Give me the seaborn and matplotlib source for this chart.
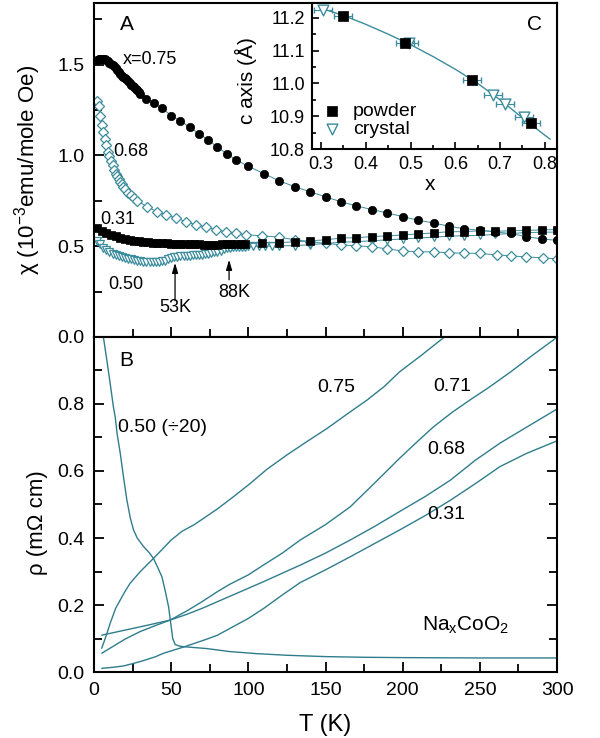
import matplotlib
matplotlib.use("Agg")
import matplotlib.pyplot as plt
from matplotlib.ticker import MultipleLocator, FixedLocator
import numpy as np
import pandas as pd
import seaborn as sns

# ---------------- Panel A: magnetic susceptibility chi(T) ----------------
T_chi_075 = [2, 3, 4, 5, 6, 7, 8, 9, 10, 11, 12, 13, 14, 15, 16, 17, 18, 19, 20,
             21, 22, 23, 24, 25, 26, 27, 28, 29, 30, 34, 39, 44, 50, 56, 62, 68,
             74, 80, 86, 92, 100, 110, 120, 130, 140, 150, 160, 170, 180, 190,
             200, 210, 220, 230, 240, 250, 260, 270, 280, 290, 300]
chi_075 = [1.525, 1.53, 1.53, 1.53, 1.53, 1.53, 1.525, 1.52, 1.51, 1.505, 1.50,
           1.49, 1.48, 1.47, 1.46, 1.45, 1.44, 1.43, 1.425, 1.42, 1.41, 1.40,
           1.39, 1.385, 1.375, 1.365, 1.36, 1.35, 1.34, 1.31, 1.29, 1.26, 1.22,
           1.19, 1.155, 1.12, 1.085, 1.045, 1.01, 0.975, 0.94, 0.90, 0.86, 0.828,
           0.80, 0.772, 0.745, 0.722, 0.702, 0.683, 0.663, 0.643, 0.628, 0.61,
           0.596, 0.588, 0.578, 0.57, 0.553, 0.54, 0.532]

T_chi_068 = [2, 3, 4, 5, 6, 7, 8, 9, 10, 11, 12, 13, 14, 15, 16, 17, 18, 19, 20,
             22, 24, 26, 28, 34.6, 41, 46.7, 53, 59.6, 66, 72.6, 79, 85.6, 92,
             98.5, 109, 120, 130, 140, 150, 160, 170, 180, 190, 200, 210, 220,
             230, 240, 250, 261, 270, 280, 291, 300]
chi_068 = [1.30, 1.27, 1.22, 1.17, 1.13, 1.09, 1.055, 1.02, 0.995, 0.97, 0.945,
           0.92, 0.90, 0.885, 0.87, 0.855, 0.84, 0.825, 0.815, 0.795, 0.78,
           0.765, 0.75, 0.716, 0.69, 0.673, 0.656, 0.635, 0.618, 0.607, 0.59,
           0.579, 0.573, 0.563, 0.557, 0.55, 0.535, 0.525, 0.515, 0.508, 0.502,
           0.497, 0.485, 0.474, 0.469, 0.469, 0.463, 0.462, 0.46, 0.452, 0.447,
           0.441, 0.436, 0.43]

T_chi_031 = [2, 5, 8, 11, 14, 17, 20, 23, 26, 29, 32, 35, 38, 41, 44, 47, 50, 53,
             56, 59, 62, 65, 68, 71, 74, 77, 80, 83, 86, 89, 92, 95, 98, 109,
             120, 130, 140, 150, 160, 170, 180, 190, 200, 210, 220, 230, 240,
             250, 260, 270, 280, 290, 300]
chi_031 = [0.598, 0.585, 0.572, 0.562, 0.554, 0.547, 0.541, 0.535, 0.53, 0.526,
           0.523, 0.521, 0.519, 0.518, 0.517, 0.515, 0.514, 0.513, 0.513, 0.512,
           0.512, 0.511, 0.51, 0.508, 0.507, 0.508, 0.509, 0.51, 0.511, 0.511,
           0.512, 0.512, 0.513, 0.518, 0.52, 0.524, 0.53, 0.535, 0.545, 0.547,
           0.553, 0.557, 0.562, 0.568, 0.573, 0.58, 0.58, 0.585, 0.582, 0.585,
           0.587, 0.59, 0.592]

T_chi_050 = [2, 4, 6, 8, 10, 12, 14, 16, 18, 20, 22, 24, 26, 28, 30, 32, 34, 36,
             38, 40, 42, 44, 46, 48, 50, 52, 54, 56, 58, 60, 62, 64, 66, 68, 70,
             72, 74, 76, 78, 80, 82, 84, 86, 88, 90, 92, 94, 96, 98, 100, 103,
             107, 111, 115, 120, 130, 140, 150, 160, 170, 180, 190, 200, 210,
             220, 230, 240, 250, 260, 270, 280, 290, 300]
chi_050 = [0.53, 0.51, 0.492, 0.478, 0.466, 0.458, 0.451, 0.445, 0.44, 0.435,
           0.431, 0.427, 0.423, 0.419, 0.416, 0.414, 0.413, 0.412, 0.412, 0.413,
           0.414, 0.416, 0.421, 0.427, 0.434, 0.44, 0.443, 0.445, 0.446, 0.447,
           0.448, 0.45, 0.451, 0.452, 0.454, 0.456, 0.459, 0.462, 0.466, 0.47,
           0.476, 0.482, 0.488, 0.492, 0.494, 0.495, 0.496, 0.497, 0.498, 0.499,
           0.5, 0.5, 0.5, 0.501, 0.502, 0.503, 0.508, 0.515, 0.522, 0.525, 0.53,
           0.535, 0.54, 0.545, 0.55, 0.555, 0.558, 0.56, 0.565, 0.57, 0.575,
           0.577, 0.578]

# ---------------- Panel B: resistivity rho(T) ----------------
T_rho_075 = [5, 8, 10.5, 14, 17, 20, 23.4, 30, 38.5, 45, 50, 57, 65, 73, 80, 90,
             101, 112, 125, 138, 151, 164, 177, 188, 198, 212, 226, 229]
rho_075 = [0.071, 0.11, 0.146, 0.19, 0.215, 0.24, 0.265, 0.30, 0.339, 0.37,
           0.394, 0.42, 0.44, 0.465, 0.487, 0.522, 0.562, 0.605, 0.648, 0.688,
           0.727, 0.77, 0.812, 0.852, 0.896, 0.945, 0.996, 1.006]

T_rho_071 = [5, 10, 20, 30, 40, 49.3, 60, 70, 80, 88, 100, 110, 122, 133.6, 150,
             166, 182, 198, 210, 220, 232, 243.6, 256, 270, 284, 297.6, 300]
rho_071 = [0.056, 0.07, 0.098, 0.121, 0.139, 0.155, 0.182, 0.21, 0.24, 0.262,
           0.29, 0.32, 0.355, 0.394, 0.44, 0.493, 0.565, 0.638, 0.69, 0.732,
           0.775, 0.812, 0.85, 0.896, 0.945, 0.991, 1.0]

T_rho_068 = [5, 15, 25, 35, 49.3, 60, 70, 80, 90, 100, 110, 122, 133.6, 150, 166,
             182, 198, 215, 231, 247, 263, 280, 300]
rho_068 = [0.11, 0.12, 0.13, 0.14, 0.155, 0.172, 0.19, 0.21, 0.23, 0.25, 0.27,
           0.295, 0.319, 0.355, 0.394, 0.435, 0.479, 0.525, 0.573, 0.632, 0.683,
           0.73, 0.785]

T_rho_031 = [5, 12, 19, 25, 32, 40, 45, 52, 59, 66, 73, 80, 88, 100, 110, 122,
             133.6, 150, 166, 182, 198, 215, 231, 247, 263, 280, 300]
rho_031 = [0.011, 0.014, 0.018, 0.025, 0.034, 0.046, 0.056, 0.066, 0.076, 0.087,
           0.098, 0.11, 0.13, 0.16, 0.19, 0.23, 0.267, 0.305, 0.344, 0.384, 0.424,
           0.468, 0.513, 0.562, 0.613, 0.652, 0.69]

# x = 0.50 sample, resistivity divided by 20
T_rho_050 = [5, 6.2, 8.3, 10.5, 12.6, 13.7, 15, 17, 19, 21.3, 23.5, 25.6, 28, 32,
             36, 38.5, 41, 44, 46, 48.3, 50, 51, 52.6, 55, 57, 65, 73, 88, 105,
             125, 150, 175, 200, 250, 300]
rho_050 = [1.04, 0.996, 0.931, 0.86, 0.79, 0.762, 0.71, 0.653, 0.585, 0.513,
           0.46, 0.424, 0.40, 0.375, 0.355, 0.339, 0.315, 0.284, 0.245, 0.195,
           0.135, 0.10, 0.082, 0.078, 0.076, 0.073, 0.07, 0.061, 0.055, 0.05,
           0.046, 0.044, 0.043, 0.042, 0.042]

# ---------------- Panel C: c-axis lattice constant vs x ----------------
x_powder = [0.349, 0.487, 0.638, 0.769]
c_powder = [11.206, 11.124, 11.009, 10.879]
x_crystal = [0.304, 0.497, 0.684, 0.711, 0.753]
c_crystal = [11.224, 11.124, 10.964, 10.936, 10.897]
x_err = 0.02
x_guide = [0.30, 0.35, 0.40, 0.45, 0.50, 0.55, 0.60, 0.65, 0.70, 0.75, 0.80, 0.812]
c_guide = [11.229, 11.207, 11.180, 11.150, 11.118, 11.082, 11.043, 11.000,
           10.950, 10.895, 10.842, 10.830]

# ---------------- style ----------------
sns.set_theme(style="ticks")
plt.rcParams.update({
    "axes.linewidth": 1.5,
    "axes.edgecolor": "black",
    "xtick.direction": "in",
    "ytick.direction": "in",
    "xtick.color": "black",
    "ytick.color": "black",
    "text.color": "black",
    "axes.labelcolor": "black",
    "mathtext.fontset": "custom",
    "mathtext.rm": "Liberation Sans",
    "mathtext.it": "Liberation Sans:italic",
    "mathtext.bf": "Liberation Sans:bold",
})
plt.rcParams["font.family"] = ["Liberation Sans", "DejaVu Sans"]

TEAL = "#3b8c9c"
LINE = "#2f7d8c"

fig = plt.figure(figsize=(6.0, 7.38), dpi=100)
axA = fig.add_axes([0.1567, 0.5434, 0.7717, 0.4526])
axB = fig.add_axes([0.1567, 0.0894, 0.7717, 0.4540])
axC = fig.add_axes([0.520, 0.798, 0.4083, 0.198])

# ---- panel A ----
def chi_series(T, v):
    return pd.DataFrame({"T": T, "chi": v})

sns.lineplot(data=chi_series(T_chi_050, chi_050), x="T", y="chi", ax=axA,
             estimator=None, sort=False, color=TEAL, linewidth=0.7,
             marker="v", markersize=5.5, markerfacecolor="white",
             markeredgecolor=TEAL, markeredgewidth=0.9)
sns.lineplot(data=chi_series(T_chi_068, chi_068), x="T", y="chi", ax=axA,
             estimator=None, sort=False, color=TEAL, linewidth=0.7,
             marker="D", markersize=5.0, markerfacecolor="white",
             markeredgecolor=TEAL, markeredgewidth=0.9)
sns.lineplot(data=chi_series(T_chi_031, chi_031), x="T", y="chi", ax=axA,
             estimator=None, sort=False, color=TEAL, linewidth=0.7,
             marker="s", markersize=5.2, markerfacecolor="black",
             markeredgecolor="black", markeredgewidth=0.5)
sns.lineplot(data=chi_series(T_chi_075, chi_075), x="T", y="chi", ax=axA,
             estimator=None, sort=False, color=TEAL, linewidth=0.7,
             marker="o", markersize=6.0, markerfacecolor="black",
             markeredgecolor="black", markeredgewidth=0.5)

axA.set_xlim(0, 300)
axA.set_ylim(0, 1.84)
axA.xaxis.set_major_locator(MultipleLocator(50))
axA.xaxis.set_minor_locator(MultipleLocator(25))
axA.yaxis.set_major_locator(MultipleLocator(0.5))
axA.yaxis.set_minor_locator(MultipleLocator(0.25))
axA.yaxis.set_major_formatter(matplotlib.ticker.FormatStrFormatter("%.1f"))
axA.tick_params(axis="both", which="both", direction="in", top=False,
                right=False, labelbottom=False, labelsize=14, pad=7)
axA.tick_params(which="major", length=7, width=1.3)
axA.tick_params(which="minor", length=6, width=1.3)
axA.set_xlabel("")
axA.set_ylabel("χ (10$^{-3}$emu/mole Oe)", fontsize=16)
axA.yaxis.set_label_coords(-0.11, 0.5)

axA.text(16.5, 1.72, "A", fontsize=15, va="center", ha="left")
axA.text(18.5, 1.527, "x=0.75", fontsize=13, va="center", ha="left")
axA.text(12.3, 1.02, "0.68", fontsize=13, va="center", ha="left")
axA.text(3.9, 0.645, "0.31", fontsize=13, va="center", ha="left")
axA.text(9.0, 0.287, "0.50", fontsize=13, va="center", ha="left")
axA.text(52.5, 0.16, "53K", fontsize=13, va="center", ha="center")
axA.text(91.0, 0.245, "88K", fontsize=13, va="center", ha="center")
arrow = dict(arrowstyle="-|>,head_length=0.5,head_width=0.15", color="black",
             lw=0.9, shrinkA=0, shrinkB=0)
axA.annotate("", xy=(52.5, 0.408), xytext=(52.5, 0.20), arrowprops=arrow)
axA.annotate("", xy=(87.5, 0.425), xytext=(87.5, 0.315), arrowprops=arrow)

# ---- panel B ----
for T, r in [(T_rho_050, rho_050), (T_rho_075, rho_075), (T_rho_071, rho_071),
             (T_rho_068, rho_068), (T_rho_031, rho_031)]:
    sns.lineplot(data=pd.DataFrame({"T": T, "rho": r}), x="T", y="rho", ax=axB,
                 estimator=None, sort=False, color=LINE, linewidth=1.0)

axB.set_xlim(0, 300)
axB.set_ylim(0, 1.0)
axB.xaxis.set_major_locator(MultipleLocator(50))
axB.xaxis.set_minor_locator(MultipleLocator(25))
axB.yaxis.set_major_locator(FixedLocator([0.0, 0.2, 0.4, 0.6, 0.8]))
axB.yaxis.set_minor_locator(FixedLocator([0.1, 0.3, 0.5, 0.7, 0.9, 1.0]))
axB.yaxis.set_major_formatter(matplotlib.ticker.FormatStrFormatter("%.1f"))
axB.tick_params(axis="both", which="both", direction="in", top=False,
                right=True, labelsize=14, pad=7)
axB.tick_params(which="major", length=7, width=1.3)
axB.tick_params(which="minor", length=6, width=1.3)
axB.set_xlabel("T (K)", fontsize=17)
axB.xaxis.set_label_coords(0.5, -0.125)
axB.set_ylabel("ρ (mΩ cm)", fontsize=16)
axB.yaxis.set_label_coords(-0.10, 0.445)

axB.text(16.5, 0.931, "B", fontsize=15, va="center", ha="left")
axB.text(15.7, 0.731, "0.50 (÷20)", fontsize=14, va="center", ha="left")
axB.text(144.4, 0.848, "0.75", fontsize=14, va="center", ha="left")
axB.text(219.7, 0.851, "0.71", fontsize=14, va="center", ha="left")
axB.text(216.0, 0.663, "0.68", fontsize=14, va="center", ha="left")
axB.text(216.0, 0.469, "0.31", fontsize=14, va="center", ha="left")
axB.text(212.5, 0.14, "Na$_{\\mathrm{x}}$CoO$_{\\mathrm{2}}$", fontsize=15,
         va="center", ha="left")

# ---- panel C (inset) ----
axC.set_facecolor("white")
sns.lineplot(x=x_guide, y=c_guide, ax=axC, color=TEAL, linewidth=1.0,
             estimator=None, sort=False)
axC.errorbar(x_powder, c_powder, xerr=x_err, fmt="none", ecolor=TEAL,
             elinewidth=0.8, capsize=2)
axC.errorbar(x_crystal, c_crystal, xerr=x_err, fmt="none", ecolor=TEAL,
             elinewidth=0.8, capsize=2)
sns.scatterplot(x=x_powder, y=c_powder, ax=axC, marker="s", s=48,
                color="black", edgecolor="black", linewidth=0.5,
                label="powder", zorder=4)
sns.scatterplot(x=x_crystal, y=c_crystal, ax=axC, marker="v", s=60,
                facecolor="white", edgecolor=TEAL, linewidth=1.0,
                label="crystal", zorder=3)
axC.set_xlim(0.28, 0.827)
axC.set_ylim(10.8, 11.245)
axC.xaxis.set_major_locator(MultipleLocator(0.1))
axC.xaxis.set_minor_locator(MultipleLocator(0.05))
axC.yaxis.set_major_locator(MultipleLocator(0.1))
axC.yaxis.set_minor_locator(MultipleLocator(0.05))
axC.xaxis.set_major_formatter(matplotlib.ticker.FormatStrFormatter("%.1f"))
axC.yaxis.set_major_formatter(matplotlib.ticker.FormatStrFormatter("%.1f"))
axC.tick_params(axis="both", which="both", direction="in", top=False,
                right=False, labelsize=13, pad=5)
axC.tick_params(which="major", length=5, width=1.2)
axC.tick_params(which="minor", length=3, width=1.2)
axC.set_xlabel("x", fontsize=15)
axC.xaxis.set_label_coords(0.48, -0.18)
axC.set_ylabel("c axis (Å)", fontsize=15)
axC.yaxis.set_label_coords(-0.225, 0.47)
axC.text(0.776, 11.179, "C", fontsize=15, va="center", ha="center")
leg = axC.legend(loc="lower left", bbox_to_anchor=(0.04, 0.06), frameon=False,
                 fontsize=14, handlelength=0.8, handletextpad=0.7,
                 labelspacing=0.05, borderpad=0.1, borderaxespad=0.0)

fig.savefig("out.png", dpi=100)
